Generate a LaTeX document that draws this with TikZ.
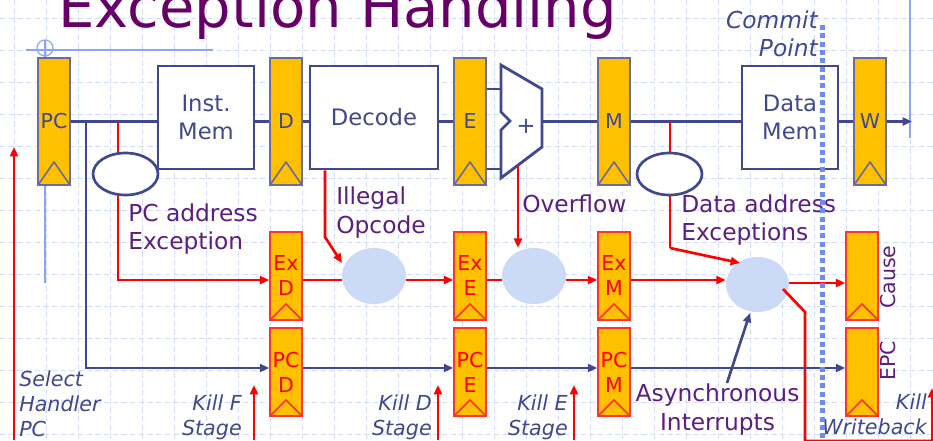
\documentclass[tikz,border=0pt]{standalone}
\usepackage{fontspec}
\setmainfont{DejaVu Sans}
\usetikzlibrary{arrows.meta,shapes.geometric}
\definecolor{navy}{RGB}{64,72,144}
\definecolor{lblpurple}{RGB}{92,30,128}
\definecolor{titlepurple}{RGB}{102,0,102}
\definecolor{regorange}{RGB}{255,192,0}
\definecolor{regborder}{RGB}{105,108,158}
\definecolor{exred}{RGB}{255,50,50}
\definecolor{sigred}{RGB}{255,0,0}
\definecolor{lightell}{RGB}{204,218,248}
\definecolor{gridblue}{RGB}{212,221,248}
\definecolor{commitblue}{RGB}{110,140,240}
\definecolor{decoblue}{RGB}{140,165,240}
\begin{document}
\begin{tikzpicture}[x=0.75pt,y=-0.75pt,
  tip/.style={-{Triangle[length=7pt,width=6pt]}},
  gridline/.style={draw=gridblue,line width=0.75pt,dash pattern=on 4pt off 2.5pt},
  deco/.style={draw=decoblue,line width=0.9pt},
  commitline/.style={draw=commitblue,line width=3.75pt,dash pattern=on 3.75pt off 2.5pt},
  nline/.style={draw=navy,line width=2pt},
  rline/.style={draw=sigred,line width=2pt},
  reg/.style={draw=regborder,line width=1.2pt,fill=regorange,minimum width=24pt,minimum height=95.25pt,inner sep=0pt,text=navy,font=\fontsize{15.4pt}{18.75pt}\selectfont,
    path picture={\draw[regborder,line width=1.2pt] (path picture bounding box.south west) -- ([yshift=17.25pt]path picture bounding box.south) -- (path picture bounding box.south east);}},
  sreg/.style={draw=exred,line width=1.2pt,fill=regorange,minimum width=24pt,minimum height=66pt,inner sep=0pt,text=sigred,align=center,font=\fontsize{15.4pt}{18.75pt}\selectfont,
    path picture={\draw[exred,line width=1.2pt] (path picture bounding box.south west) -- ([yshift=12pt]path picture bounding box.south) -- (path picture bounding box.south east);}},
  box/.style={draw=navy,line width=2.1pt,fill=white,minimum height=77.25pt,inner sep=0pt,text=navy,align=center,font=\fontsize{17pt}{21pt}\selectfont},
  wellipse/.style={ellipse,draw=navy,line width=2pt,fill=white,minimum width=48.75pt,minimum height=31.5pt,inner sep=0pt},
  bell/.style={ellipse,fill=lightell,minimum width=48pt,minimum height=42pt,inner sep=0pt},
  plabel/.style={text=lblpurple,inner sep=0pt,font=\fontsize{17.5pt}{21.5pt}\selectfont},
  ilabel/.style={text=navy,inner sep=0pt,font=\fontsize{15.5pt}{18.75pt}\selectfont\itshape},
  vlabel/.style={text=lblpurple,inner sep=0pt,rotate=90,font=\fontsize{15.4pt}{18pt}\selectfont}
]
\useasboundingbox (0,0) rectangle (933,440);
\fill[white] (0,0) rectangle (933,440);
% background grid
\foreach \gx in {14,46,...,910} \draw[gridline] (\gx,0) -- (\gx,440);
\foreach \gy in {18,50,...,434} \draw[gridline] (0,\gy) -- (933,\gy);
% slide decorations
\draw[deco] (26,50) -- (213,50);
\draw[deco] (45,40) -- (45,283);
\draw[deco] (45,48) circle[radius=6pt];
\draw[deco] (910,0) -- (910,138);
% title
\node[anchor=base west,inner sep=0pt,text=titlepurple,font=\fontsize{43.2pt}{50pt}\selectfont] (title) at (58,27) {Exception Handling};
% coordinates
\coordinate (rowEx) at (0,280);
\coordinate (rowC) at (0,283);
\coordinate (rowPC) at (0,368);
\coordinate (tapB) at (86,121.5);
\coordinate (tapR) at (118,121.5);
\coordinate (tapD) at (670,121.5);
\coordinate (aluA) at (501,89);
\coordinate (aluB) at (501,169);
\coordinate (aluO) at (542,121.5);
\coordinate (aluOv) at (518,165);
\coordinate (ibend) at (325,237);
\coordinate (itip) at (342,263);
\coordinate (dbend) at (670,248);
\coordinate (dtip) at (740,263);
\coordinate (wout) at (912,121.5);
\coordinate (k3a) at (783,289);
\coordinate (k3b) at (805,312);
\coordinate (k3c) at (805,441);
\coordinate (k3d) at (935,441);
\coordinate (asyS) at (727,383);
\coordinate (asyT) at (750,313);
\coordinate (killH) at (14,440);
\coordinate (killHt) at (14,147);
\coordinate (killF) at (254,440);
\coordinate (killFt) at (254,385);
\coordinate (killD) at (438,440);
\coordinate (killDt) at (438,385);
\coordinate (killE) at (574,440);
\coordinate (killEt) at (574,385);
\coordinate (killW) at (932,440);
\coordinate (killWt) at (932,388);
\coordinate (cpTop) at (822,25);
\coordinate (cpBot) at (822,440);
% upper pipeline
\node[reg] (pc) at (54,121.5) {PC};
\node[box,minimum width=72pt] (im) at (206,117.5) {Inst.\\Mem};
\node[reg] (d) at (286,121.5) {D};
\node[box,minimum width=96pt] (dec) at (374,117.5) {Decode};
\node[reg] (e) at (470,121.5) {E};
\draw[navy,line width=2.1pt,fill=white,line join=miter] (501,65) -- (542,89) -- (542,147) -- (501,178) -- (501,130) -- (510,121) -- (501,112) -- cycle;
\node[text=navy,inner sep=0pt,font=\fontsize{17pt}{20pt}\selectfont] (plus) at (526,126) {+};
\node[reg] (m) at (614,121.5) {M};
\node[box,minimum width=72pt] (dm) at (790,117.5) {Data\\Mem};
\node[reg] (w) at (870,121.5) {W};
% main datapath
\draw[nline] (pc.east) -- (im.west |- pc.east);
\draw[nline] (im.east |- d.west) -- (d.west);
\draw[nline] (d.east) -- (dec.west |- d.east);
\draw[nline] (dec.east |- e.west) -- (e.west);
\draw[nline] (e.east |- aluA) -- (aluA);
\draw[nline] (e.east |- aluB) -- (aluB);
\draw[nline] (aluO) -- (m.west |- aluO);
\draw[nline] (m.east) -- (dm.west |- m.east);
\draw[nline] (dm.east |- w.west) -- (w.west);
\draw[nline,tip] (w.east) -- (wout);
% lower registers
\node[sreg] (exd) at (286,276) {Ex\\D};
\node[sreg] (pcd) at (286,372) {PC\\D};
\node[sreg] (exe) at (470,276) {Ex\\E};
\node[sreg] (pce) at (470,372) {PC\\E};
\node[sreg] (exm) at (614,276) {Ex\\M};
\node[sreg] (pcm) at (614,372) {PC\\M};
\node[sreg] (cause) at (862,276) {};
\node[sreg] (epc) at (862,372) {};
\node[vlabel] (causel) at (888,277) {Cause};
\node[vlabel] (epcl) at (888,361) {EPC};
% PC address exception
\draw[nline,tip] (tapB) |- (pcd.west |- rowPC);
\draw[rline,tip] (tapR) |- (exd.west |- rowEx);
\node[wellipse] (we1) at (125.5,174) {};
% data address exception
\draw[rline] (tapD) -- (dbend);
\node[wellipse] (we2) at (669.5,174) {};
% exception ellipses
\node[bell] (b1) at (374,276) {};
\node[bell] (b2) at (534,276) {};
\node[bell,minimum width=47.25pt,minimum height=41.25pt] (b3) at (757.5,284.5) {};
\draw[rline,tip] (dbend) -- (dtip);
\draw[rline,tip] (dec.south -| ibend) -- (ibend) -- (itip);
\draw[rline,tip] (aluOv) -- (aluOv |- b2.north);
\draw[rline] (exd.east |- rowEx) -- (b1.west |- rowEx);
\draw[rline,tip] (b1.east |- rowEx) -- (exe.west |- rowEx);
\draw[rline] (exe.east |- rowEx) -- (b2.west |- rowEx);
\draw[rline,tip] (b2.east |- rowEx) -- (exm.west |- rowEx);
\draw[rline,tip] (exm.east |- rowEx) -- (b3.west |- rowEx);
\draw[rline,tip] (b3.east |- rowC) -- (cause.west |- rowC);
\draw[rline] (k3a) -- (k3b) -- (k3c) -- (k3d);
% PC row
\draw[nline,tip] (pcd.east |- rowPC) -- (pce.west |- rowPC);
\draw[nline,tip] (pce.east |- rowPC) -- (pcm.west |- rowPC);
\draw[nline,tip] (pcm.east |- rowPC) -- (epc.west |- rowPC);
% asynchronous interrupts
\draw[nline,tip] (asyS) -- (asyT);
% kill signals
\draw[rline,tip] (killH) -- (killHt);
\draw[rline,tip] (killF) -- (killFt);
\draw[rline,tip] (killD) -- (killDt);
\draw[rline,tip] (killE) -- (killEt);
\draw[rline,tip] (killW) -- (killWt);
% labels
\node[plabel,anchor=west,align=left] (lpc) at (128,229) {PC address\\Exception};
\node[plabel,anchor=west,align=left] (lill) at (336,212.4) {Illegal\\Opcode};
\node[plabel,anchor=west] (lov) at (522,204) {Overflow};
\node[plabel,anchor=west,align=left] (lda) at (681,220) {Data address\\Exceptions};
\node[plabel,align=center] (lasy) at (717.5,409.8) {Asynchronous\\Interrupts};
\node[ilabel,anchor=west,align=left] (lsel) at (19,404) {Select\\Handler\\PC};
\node[ilabel,anchor=east,align=right] (lkf) at (242,417) {Kill F\\Stage};
\node[ilabel,anchor=east,align=right] (lkd) at (432,417) {Kill D\\Stage};
\node[ilabel,anchor=east,align=right] (lke) at (568,417) {Kill E\\Stage};
\node[ilabel,anchor=east,align=right] (lkw) at (927,414) {Kill\\Writeback};
% commit point (drawn on top)
\draw[commitline] (cpTop) -- (cpBot);
\node[ilabel,anchor=east,align=right,font=\fontsize{17.5pt}{21pt}\selectfont\itshape] (commit) at (818,34) {Commit\\Point};
\end{tikzpicture}
\end{document}
